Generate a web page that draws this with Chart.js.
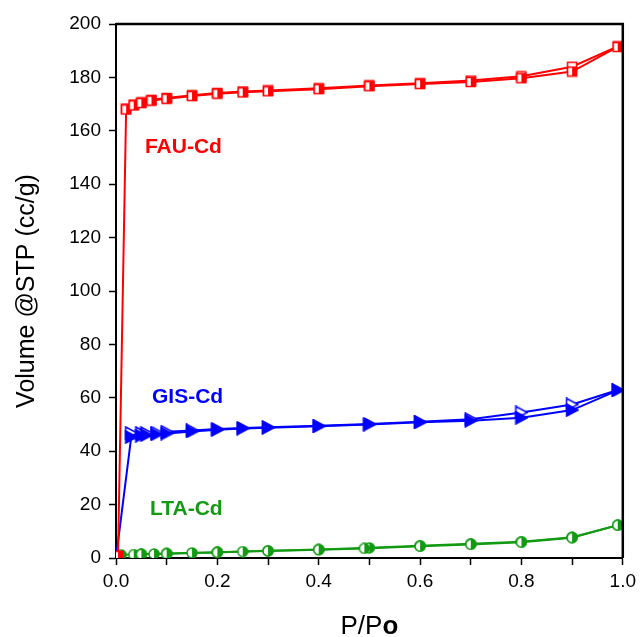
<!DOCTYPE html>
<html>
<head>
<meta charset="utf-8">
<script src="https://cdn.jsdelivr.net/npm/chart.js@4/dist/chart.umd.min.js"></script>
<style>
  html, body { margin: 0; padding: 0; background: #fff; }
  #wrap { width: 641px; height: 637px; position: relative; }
</style>
</head>
<body>
<div id="wrap"><canvas id="iso"></canvas></div>
<script>
// isotherm data (P/Po, cc/g)
const fauAdsP = [0.004, 0.02, 0.035, 0.05, 0.07, 0.1, 0.15, 0.2, 0.25, 0.3, 0.4, 0.5, 0.6, 0.7, 0.8, 0.9, 0.99];
const fauAdsV = [0.8, 168, 169.5, 170.4, 171.3, 172, 173, 173.9, 174.4, 174.8, 175.6, 176.7, 177.5, 178.3, 179.7, 182.2, 191.4];
const fauDesP = [0.99, 0.9, 0.8, 0.7, 0.6, 0.5, 0.4, 0.3, 0.25, 0.2, 0.15, 0.1, 0.07, 0.05, 0.035, 0.02];
const fauDesV = [191.6, 184, 180.4, 178.8, 177.8, 177, 175.9, 175.1, 174.7, 174.2, 173.3, 172.3, 171.6, 170.6, 169.8, 168.3];

const gisAdsP = [0, 0.03, 0.05, 0.06, 0.08, 0.1, 0.15, 0.2, 0.25, 0.3, 0.4, 0.5, 0.6, 0.7, 0.8, 0.9, 0.99];
const gisAdsV = [0, 45.3, 45.8, 46, 46.3, 46.6, 47.4, 48, 48.5, 48.8, 49.3, 50, 50.8, 51.4, 52.5, 55.4, 62.8];
const gisDesP = [0.99, 0.9, 0.8, 0.7, 0.6, 0.5, 0.4, 0.3, 0.25, 0.2, 0.15, 0.1, 0.08, 0.06, 0.05, 0.03];
const gisDesV = [62.9, 57.5, 54.5, 52, 51, 50.2, 49.5, 49, 48.7, 48.3, 47.8, 47.3, 47, 46.8, 46.8, 46.8];

const ltaAdsP = [0, 0.01, 0.035, 0.05, 0.075, 0.1, 0.15, 0.2, 0.25, 0.3, 0.4, 0.49, 0.6, 0.7, 0.8, 0.9, 0.99];
const ltaAdsV = [0, 1.2, 1.3, 1.4, 1.5, 1.6, 1.9, 2.1, 2.4, 2.6, 3.1, 3.6, 4.4, 5.1, 5.9, 7.6, 12.3];
const ltaDesP = [0.99, 0.9, 0.8, 0.7, 0.6, 0.5, 0.4, 0.3, 0.2, 0.1, 0.05];
const ltaDesV = [12.3, 7.8, 6.1, 5.3, 4.6, 3.8, 3.2, 2.7, 2.2, 1.7, 1.4];

const xTicks = [0, 0.2, 0.4, 0.6, 0.8, 1.0];
const yTicks = [0, 20, 40, 60, 80, 100, 120, 140, 160, 180, 200];

const sampleNames = ["FAU-Cd", "GIS-Cd", "LTA-Cd"];
const labelAt = [[0.057, 154], [0.071, 60.3], [0.067, 18.4]];

const RED = "#ff0000", BLUE = "#0000ff", GREEN = "#129a12";
const FONT = "'Liberation Sans', Arial, sans-serif";

function pts(px, py) {
  return px.map((p, i) => ({ x: p, y: py[i] }));
}

// small canvases used as point styles (half filled like the Origin markers)
function marker(shape, color, mode) {
  const s = shape === "tri" ? 14 : 12;
  const c = document.createElement("canvas");
  c.width = s; c.height = s;
  const g = c.getContext("2d");
  g.lineWidth = 1.5;
  g.strokeStyle = color;
  const path = () => {
    g.beginPath();
    if (shape === "sq") g.rect(1.5, 1.5, s - 3, s - 3);
    else if (shape === "circ") g.arc(s / 2, s / 2, s / 2 - 1, 0, Math.PI * 2);
    else { g.moveTo(1.5, 1); g.lineTo(s - 1, s / 2); g.lineTo(1.5, s - 1); g.closePath(); }
  };
  path();
  g.fillStyle = "#fff";
  g.fill();
  if (mode === "full") {
    g.fillStyle = color; g.fill();
  } else if (mode === "half") {
    g.save(); g.clip();
    g.fillStyle = color;
    g.fillRect(s / 2, 0, s / 2, s);
    g.restore();
  }
  path();
  g.stroke();
  return c;
}

function series(px, py, color, style, hideFirst) {
  return {
    data: pts(px, py),
    borderColor: color,
    borderWidth: 2,
    pointStyle: style,
    pointRadius: ctx => (hideFirst && ctx.dataIndex === 0 ? 0 : 6),
    pointHoverRadius: 6,
    showLine: true,
    tension: 0
  };
}

const datasets = [
  series(fauAdsP, fauAdsV, RED, marker("sq", RED, "half"), false),
  series(fauDesP, fauDesV, RED, marker("sq", RED, "open"), false),
  series(gisAdsP, gisAdsV, BLUE, marker("tri", BLUE, "full"), true),
  series(gisDesP, gisDesV, BLUE, marker("tri", BLUE, "open"), false),
  series(ltaAdsP, ltaAdsV, GREEN, marker("circ", GREEN, "half"), true),
  series(ltaDesP, ltaDesV, GREEN, marker("circ", GREEN, "half"), false)
];

const decor = {
  id: "decor",
  afterDraw(chart) {
    const { ctx, chartArea: a, scales } = chart;
    ctx.save();
    ctx.strokeStyle = "#000";
    ctx.lineWidth = 2.5;
    ctx.beginPath();
    ctx.moveTo(a.left, a.top); ctx.lineTo(a.right, a.top); ctx.lineTo(a.right, a.bottom);
    ctx.stroke();

    // sample names
    ctx.font = "bold 21px " + FONT;
    ctx.textBaseline = "middle";
    ctx.textAlign = "left";
    [RED, BLUE, GREEN].forEach((col, i) => {
      ctx.fillStyle = col;
      ctx.fillText(sampleNames[i], scales.x.getPixelForValue(labelAt[i][0]), scales.y.getPixelForValue(labelAt[i][1]));
    });

    // axis titles
    ctx.fillStyle = "#000";
    const t1 = "P/P";
    ctx.font = "26px " + FONT;
    const w1 = ctx.measureText(t1).width;
    ctx.font = "bold 26px " + FONT;
    const w2 = ctx.measureText("o").width;
    const cx = (a.left + a.right) / 2 - (w1 + w2) / 2;
    ctx.textAlign = "left";
    ctx.textBaseline = "alphabetic";
    ctx.font = "26px " + FONT;
    ctx.fillText(t1, cx, 634);
    ctx.font = "bold 26px " + FONT;
    ctx.fillText("o", cx + w1, 634);

    ctx.translate(27, (a.top + a.bottom) / 2);
    ctx.rotate(-Math.PI / 2);
    ctx.font = "25px " + FONT;
    ctx.textAlign = "center";
    ctx.textBaseline = "middle";
    ctx.fillText("Volume @STP (cc/g)", 0, 0);
    ctx.restore();
  }
};

new Chart(document.getElementById("iso"), {
  type: "scatter",
  data: { datasets },
  options: {
    responsive: true,
    maintainAspectRatio: false,
    animation: false,
    layout: { padding: { left: 0, right: 16, top: 24, bottom: 0 } },
    plugins: { legend: { display: false }, tooltip: { enabled: false } },
    scales: {
      x: {
        type: "linear", min: 0, max: 1,
        afterFit: s => { s.height = 79; },
        border: { color: "#000", width: 2 },
        grid: { drawOnChartArea: false, drawTicks: true, tickLength: 7, tickColor: "#000", tickWidth: 1.5 },
        ticks: {
          stepSize: 0.1, padding: 5, color: "#000", font: { size: 19, family: FONT },
          maxRotation: 0, autoSkip: false,
          callback: v => xTicks.some(t => Math.abs(t - v) < 1e-6) ? v.toFixed(1) : ""
        }
      },
      y: {
        type: "linear", min: 0, max: 200,
        afterFit: s => { s.width = 116; },
        afterBuildTicks: s => { s.ticks = yTicks.map(v => ({ value: v })); },
        border: { color: "#000", width: 2 },
        grid: { drawOnChartArea: false, drawTicks: true, tickLength: 7, tickColor: "#000", tickWidth: 1.5 },
        ticks: { padding: 8, color: "#000", font: { size: 19, family: FONT } }
      }
    }
  },
  plugins: [decor]
});
</script>
</body>
</html>
